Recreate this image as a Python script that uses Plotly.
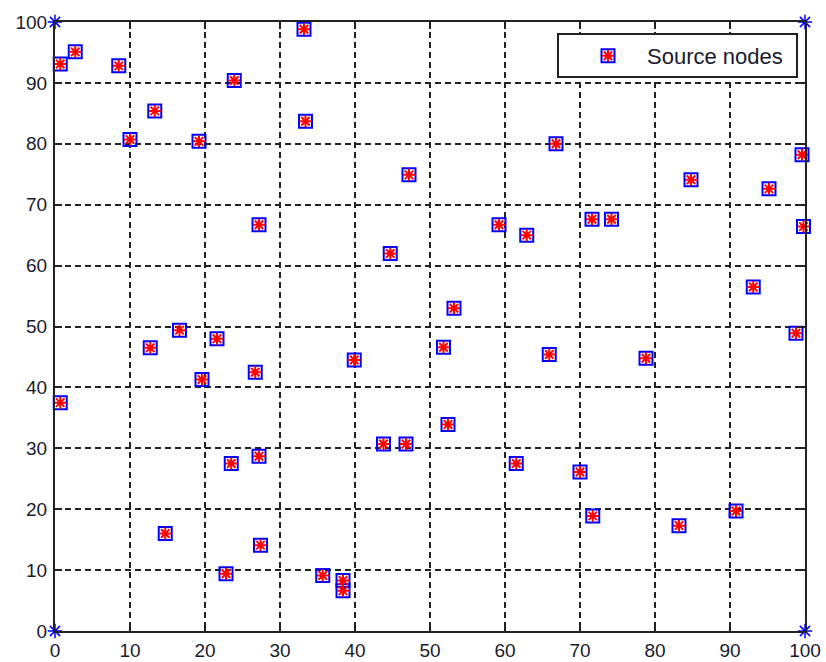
import plotly.graph_objects as go

x_nodes = [0.7, 2.7, 8.5, 10.0, 13.3, 19.2, 23.9, 33.2, 33.4, 47.2,
           27.2, 44.7, 66.8, 99.6, 84.8, 95.2, 99.8, 93.1, 98.8, 59.2,
           62.9, 71.6, 74.2, 53.2, 51.8, 65.9, 78.8, 12.7, 16.6, 21.6,
           19.6, 26.7, 39.9, 0.7, 52.4, 43.8, 46.8, 23.5, 27.2, 61.5,
           70.0, 14.7, 22.8, 27.4, 35.7, 38.4, 38.4, 71.7, 83.2, 90.8]
y_nodes = [93.1, 95.1, 92.8, 80.7, 85.4, 80.4, 90.4, 98.8, 83.7, 74.9,
           66.7, 62.0, 80.0, 78.2, 74.1, 72.6, 66.4, 56.5, 48.9, 66.7,
           65.0, 67.6, 67.6, 53.0, 46.6, 45.4, 44.8, 46.5, 49.4, 48.0,
           41.3, 42.5, 44.5, 37.5, 33.9, 30.7, 30.7, 27.5, 28.7, 27.5,
           26.1, 16.0, 9.4, 14.1, 9.1, 8.3, 6.6, 18.9, 17.3, 19.7]

x_corners = [0, 0, 100, 100]
y_corners = [0, 100, 0, 100]

tick_vals = list(range(0, 101, 10))
legend_label = "Source nodes"

W, H = 826, 662
ML, MR, MT, MB = 55, 21, 22, 31
PW, PH = W - ML - MR, H - MT - MB

def px_x(p):
    return (p - ML) / PW

def px_y(p):
    return (H - MB - p) / PH

font_family = "Liberation Sans, Arial, sans-serif"

fig = go.Figure()
fig.add_trace(go.Scatter(
    x=x_corners, y=y_corners, mode="markers", showlegend=False,
    marker=dict(symbol="asterisk-open", size=12, color="blue",
                line=dict(color="blue", width=1.5)),
    cliponaxis=False, hoverinfo="skip"))
fig.add_trace(go.Scatter(
    x=x_nodes, y=y_nodes, mode="markers", name=legend_label,
    marker=dict(symbol="square-open", size=13, color="blue",
                line=dict(color="blue", width=2)),
    cliponaxis=False, legend="legend"))
fig.add_trace(go.Scatter(
    x=x_nodes, y=y_nodes, mode="markers", name=legend_label,
    marker=dict(symbol="asterisk-open", size=10, color="red",
                line=dict(color="red", width=2)),
    cliponaxis=False, legend="legend2"))

axis_common = dict(
    range=[0, 100], tickvals=tick_vals, showgrid=True,
    gridcolor="#222222", gridwidth=1.5, griddash="6px,4px",
    showline=True, linecolor="#222222", linewidth=2, mirror="ticks",
    ticks="inside", ticklen=7, tickwidth=2, tickcolor="#222222",
    zeroline=False, fixedrange=True, automargin=False,
    tickfont=dict(family=font_family, size=19, color="#1a1a2e"),
)

leg_common = dict(
    x=px_x(569), y=px_y(56), xanchor="left", yanchor="middle",
    xref="paper", yref="paper",
    bgcolor="rgba(0,0,0,0)", borderwidth=0,
    font=dict(family=font_family, size=22, color="#1a1a2e"),
    itemwidth=68,
)

fig.update_layout(
    width=W, height=H,
    margin=dict(l=ML, r=MR, t=MT, b=MB, pad=0),
    paper_bgcolor="white", plot_bgcolor="white",
    xaxis=dict(**axis_common, ticklabelstandoff=1),
    yaxis=dict(**axis_common, ticklabelstandoff=2),
    legend=leg_common,
    legend2=dict(**{k: v for k, v in leg_common.items() if k != "font"},
                 font=dict(family=font_family, size=22, color="rgba(0,0,0,0)")),
    shapes=[dict(type="rect", xref="paper", yref="paper",
                 x0=px_x(558), x1=px_x(797), y0=px_y(77), y1=px_y(34),
                 fillcolor="white", line=dict(color="#222222", width=2),
                 layer="above")],
)

fig.write_html("out.html")
